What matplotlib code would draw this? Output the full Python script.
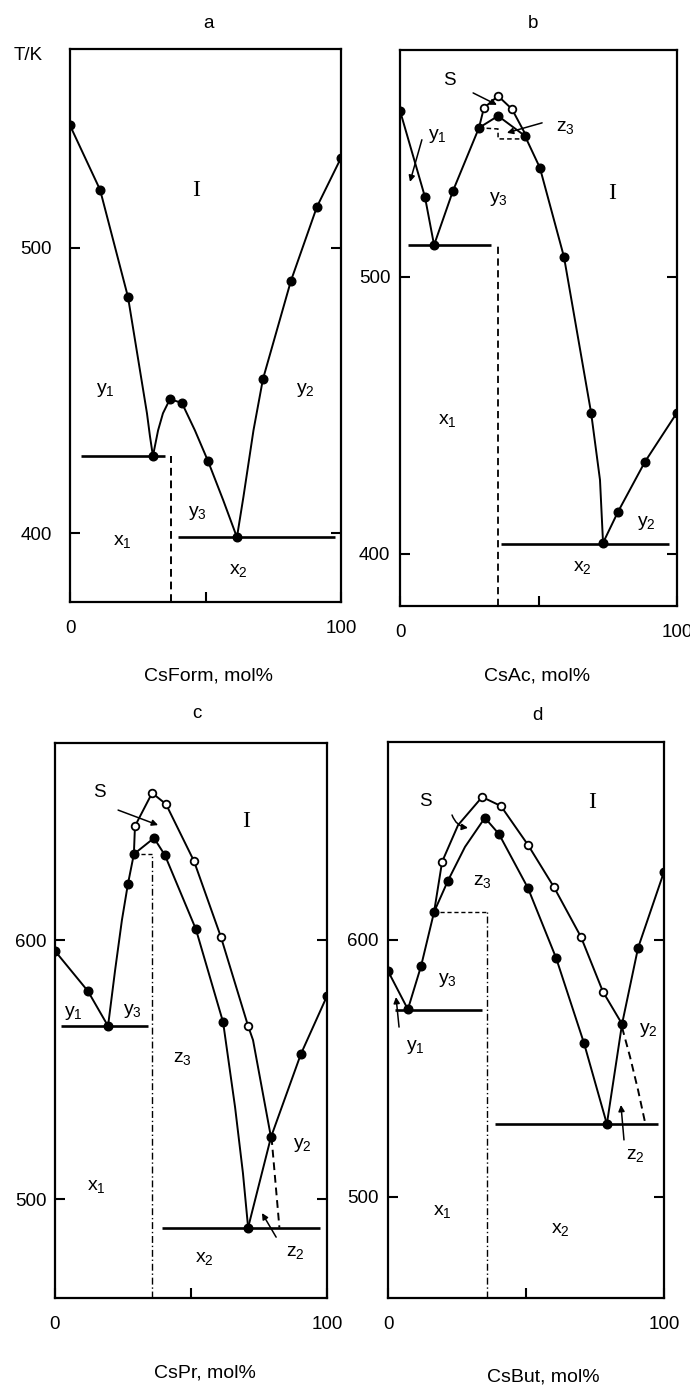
import matplotlib
matplotlib.use('Agg')
import matplotlib.pyplot as plt

plt.rcParams['font.family'] = ['Liberation Sans', 'DejaVu Sans']
plt.rcParams['mathtext.fontset'] = 'custom'
plt.rcParams['mathtext.rm'] = 'Liberation Sans'

# ---------------- panel a : CsForm ----------------
a_y1_x = [0, 11.1, 21.4, 28.4, 29.5, 30.6]
a_y1_T = [543, 520.4, 482.8, 442, 434, 427]
a_y3_x = [30.6, 32.5, 34.3, 36.9, 41.3, 46.1, 50.9, 56.5, 61.6]
a_y3_T = [427, 436, 442, 447, 445.6, 436, 425.3, 411.6, 398.5]
a_y2_x = [61.6, 64.0, 67.7, 71.2, 81.5, 91.1, 100]
a_y2_T = [398.5, 412.7, 436, 454, 488.4, 514.4, 531.6]
a_dot_x = [0, 11.1, 21.4, 30.6, 36.9, 41.3, 50.9, 61.6, 71.2, 81.5, 91.1, 100]
a_dot_T = [543, 520.4, 482.8, 427, 447, 445.6, 425.3, 398.5, 454, 488.4, 514.4, 531.6]
a_eut_T = [427, 398.5]
a_eut_x0 = [4.1, 39.9]
a_eut_x1 = [35.1, 97.8]
a_comp_x = 37.3

# ---------------- panel b : CsAc ----------------
b_y1_x = [0, 9.0, 12.3]
b_y1_T = [560, 528.9, 511.5]
b_y3_x = [12.3, 19.1, 28.5, 35.4, 45.1, 50.5, 59.2, 69.0, 72.2, 73.3]
b_y3_T = [511.5, 531, 553.8, 558.1, 550.9, 539.4, 507.2, 450.9, 426.7, 404]
b_y2_x = [73.3, 78.7, 88.4, 100]
b_y2_T = [404, 415.2, 433.2, 451]
b_s_x = [28.5, 30.3, 35.4, 40.4, 45.8]
b_s_T = [553.8, 561, 565.3, 560.6, 550.5]
b_z3_x = [28.5, 35.4, 35.4, 45.1]
b_z3_T = [553.8, 553.4, 549.8, 549.8]
b_dot_x = [0, 9.0, 12.3, 19.1, 28.5, 35.4, 45.1, 50.5, 59.2, 69.0, 73.3, 78.7, 88.4, 100]
b_dot_T = [560, 528.9, 511.5, 531, 553.8, 558.1, 550.9, 539.4, 507.2, 450.9, 404, 415.2, 433.2, 451]
b_open_x = [30.3, 35.4, 40.4]
b_open_T = [561, 565.3, 560.6]
b_eut_T = [511.5, 403.6]
b_eut_x0 = [2.9, 36.5]
b_eut_x1 = [33.0, 97.0]
b_comp_x = 35.4

# ---------------- panel c : CsPr ----------------
c_y1_x = [0, 12.1, 19.5]
c_y1_T = [595.8, 580.3, 566.8]
c_y3_x = [19.5, 22.1, 24.6, 26.8, 29.0, 36.4, 40.4, 51.8, 61.8, 66.2, 69.1, 71.0]
c_y3_T = [566.8, 588.4, 607.7, 621.6, 633.2, 639.4, 632.8, 604.2, 568.3, 535.5, 510, 489]
c_s_x = [29.0, 29.4, 35.7, 40.8, 51.1, 61.0, 71.0, 72.8, 79.4]
c_s_T = [633.2, 644, 656.8, 652.5, 630.5, 601.2, 566.8, 561.4, 523.9]
c_y2_x = [71.0, 79.4, 90.4, 100]
c_y2_T = [489, 523.9, 556, 578.4]
c_z2_x = [79.6, 82.5]
c_z2_T = [523.9, 489]
c_dot_x = [0, 12.1, 19.5, 26.8, 29.0, 36.4, 40.4, 51.8, 61.8, 71.0, 79.4, 90.4, 100]
c_dot_T = [595.8, 580.3, 566.8, 621.6, 633.2, 639.4, 632.8, 604.2, 568.3, 489, 523.9, 556, 578.4]
c_open_x = [29.4, 35.7, 40.8, 51.1, 61.0, 71.0]
c_open_T = [644, 656.8, 652.5, 630.5, 601.2, 566.8]
c_eut_T = [566.8, 489]
c_eut_x0 = [2.2, 39.3]
c_eut_x1 = [34.2, 97.4]
c_comp_x = 35.8
c_comp_T = 633.2

# ---------------- panel d : CsBut ----------------
d_y1_x = [0, 7.2]
d_y1_T = [587.9, 573]
d_y3_x = [7.2, 12.0, 16.7, 21.7, 27.9, 35.1, 40.2, 50.7, 60.9, 71.0, 79.3]
d_y3_T = [573, 589.9, 610.9, 623, 636.2, 647.5, 641.2, 620.2, 593, 559.9, 528.4]
d_s_x = [16.7, 19.6, 25.4, 34.1, 40.9, 50.7, 60.1, 69.9, 77.9, 84.8]
d_s_T = [610.9, 630.4, 644.7, 655.6, 652.1, 637, 620.6, 601.2, 579.8, 567.3]
d_y2_x = [79.3, 84.8, 90.6, 100]
d_y2_T = [528.4, 567.3, 596.9, 626.5]
d_z2_x = [84.8, 87.7, 90.6, 93.1]
d_z2_T = [566, 554.5, 541.6, 529.2]
d_dot_x = [0, 7.2, 12.0, 16.7, 21.7, 35.1, 40.2, 50.7, 60.9, 71.0, 79.3, 84.8, 90.6, 100]
d_dot_T = [587.9, 573, 589.9, 610.9, 623, 647.5, 641.2, 620.2, 593, 559.9, 528.4, 567.3, 596.9, 626.5]
d_open_x = [19.6, 34.1, 40.9, 50.7, 60.1, 69.9, 77.9]
d_open_T = [630.4, 655.6, 652.1, 637, 620.6, 601.2, 579.8]
d_eut_T = [572.8, 528.4]
d_eut_x0 = [2.5, 38.8]
d_eut_x1 = [34.0, 97.8]
d_comp_x = 36.0
d_comp_T = 611.0
d_comp_x0 = 18.8

y_ticks_ab = [400, 500]
y_ticks_cd = [500, 600]
x_ticks = [0, 50, 100]
x_tick_labels = ['0', '', '100']

W, H = 690, 1387
fig = plt.figure(figsize=(W / 100, H / 100), dpi=100)


def make_ax(l, t, r, b, ylim, yticks, ypad):
    ax = fig.add_axes([l / W, 1 - b / H, (r - l) / W, (b - t) / H])
    ax.set_xlim(0, 100)
    ax.set_ylim(*ylim)
    ax.set_xticks(x_ticks)
    ax.set_xticklabels(x_tick_labels)
    ax.set_yticks(yticks)
    ax.set_yticklabels([str(v) for v in yticks])
    ax.tick_params(direction='in', length=7, width=1.5, labelsize=13.5,
                   right=True, top=False)
    ax.tick_params(axis='x', pad=13)
    ax.tick_params(axis='y', pad=ypad)
    for s in ax.spines.values():
        s.set_linewidth(1.6)
    return ax


def solid(ax, x, T):
    ax.plot(x, T, color='k', lw=1.4, solid_joinstyle='round', zorder=3)


def dots(ax, x, T):
    ax.plot(x, T, 'o', ms=6.2, color='k', ls='none', zorder=5)


def opens(ax, x, T):
    ax.plot(x, T, 'o', ms=5.5, mfc='white', mec='k', mew=1.3, ls='none', zorder=5)


def eut(ax, T, x0, x1):
    ax.hlines(T, x0, x1, color='k', lw=1.9, zorder=3)


def lab(ax, x, T, s, size=14, serif=False):
    fam = ['Liberation Serif'] if serif else ['Liberation Sans']
    ax.text(x, T, s, ha='center', va='center', fontsize=size, family=fam)


def arrow(ax, x0, T0, x1, T1, rad=0.0):
    ax.annotate('', xy=(x1, T1), xytext=(x0, T0),
                arrowprops=dict(arrowstyle='-|>', color='k', lw=1.1,
                                mutation_scale=9, shrinkA=0, shrinkB=0,
                                connectionstyle='arc3,rad=%g' % rad))


def Y(n):
    return r'$\mathregular{y_%d}$' % n


def X(n):
    return r'$\mathregular{x_%d}$' % n


def Z(n):
    return r'$\mathregular{z_%d}$' % n


# ---------- a ----------
ax = make_ax(70, 49, 341, 602, (375.8, 569.8), y_ticks_ab, 13)
solid(ax, a_y1_x, a_y1_T)
solid(ax, a_y3_x, a_y3_T)
solid(ax, a_y2_x, a_y2_T)
dots(ax, a_dot_x, a_dot_T)
eut(ax, a_eut_T, a_eut_x0, a_eut_x1)
ax.vlines(a_comp_x, 375.8, a_eut_T[0], colors='k', lw=1.4, linestyles=(0, (4, 2.5)))
lab(ax, 46.5, 520, 'I', 17, serif=True)
lab(ax, 13, 450, Y(1))
lab(ax, 87, 450, Y(2))
lab(ax, 47, 407, Y(3))
lab(ax, 19.5, 397, X(1))
lab(ax, 62, 387, X(2))

# ---------- b ----------
ax = make_ax(400, 50, 677, 606, (381.2, 581.9), y_ticks_ab, 7)
solid(ax, b_y1_x, b_y1_T)
solid(ax, b_y3_x, b_y3_T)
solid(ax, b_y2_x, b_y2_T)
solid(ax, b_s_x, b_s_T)
ax.plot(b_z3_x, b_z3_T, color='k', lw=1.1, ls=(0, (3, 2)), zorder=3)
dots(ax, b_dot_x, b_dot_T)
opens(ax, b_open_x, b_open_T)
eut(ax, b_eut_T, b_eut_x0, b_eut_x1)
ax.vlines(b_comp_x, 381.2, b_eut_T[0], colors='k', lw=1.3, linestyles=(0, (4, 2.5)))
lab(ax, 17.7, 571, 'S', 13.5)
lab(ax, 13.4, 551, Y(1))
lab(ax, 59.6, 554, Z(3))
lab(ax, 35.7, 528, Y(3))
lab(ax, 76.5, 530, 'I', 17, serif=True)
lab(ax, 17, 448, X(1))
lab(ax, 89, 411, Y(2))
lab(ax, 66, 395, X(2))
arrow(ax, 7.9, 549.5, 3.6, 534.3)
arrow(ax, 26.4, 566.4, 35.0, 562.1)
arrow(ax, 51.3, 555.6, 38.6, 552.0)

# ---------- c ----------
ax = make_ax(55, 743, 327, 1298, (461.8, 676.1), y_ticks_cd, 6)
solid(ax, c_y1_x, c_y1_T)
solid(ax, c_y3_x, c_y3_T)
solid(ax, c_s_x, c_s_T)
solid(ax, c_y2_x, c_y2_T)
ax.plot(c_z2_x, c_z2_T, color='k', lw=1.4, ls=(0, (4, 2.5)), zorder=3)
dots(ax, c_dot_x, c_dot_T)
opens(ax, c_open_x, c_open_T)
eut(ax, c_eut_T, c_eut_x0, c_eut_x1)
ax.vlines(c_comp_x, 461.8, c_comp_T, colors='k', lw=1.0, linestyles=(0, (5, 2, 1, 2)))
ax.hlines(c_comp_T, c_dot_x[4], c_comp_x, colors='k', lw=1.0, linestyles=(0, (3, 2)))
lab(ax, 16.2, 657, 'S', 13.5)
lab(ax, 70.2, 645.6, 'I', 17, serif=True)
lab(ax, 6.6, 571.8, Y(1))
lab(ax, 28.6, 572.6, Y(3))
lab(ax, 47, 554.4, Z(3))
lab(ax, 90.8, 520.8, Y(2))
lab(ax, 15.1, 505, X(1))
lab(ax, 55.1, 477.2, X(2))
lab(ax, 88.2, 479.5, Z(2))
arrow(ax, 23.2, 650.2, 37.9, 644.4)
arrow(ax, 81.3, 485.3, 76.1, 494.6)

# ---------- d ----------
ax = make_ax(388, 742, 664, 1298, (460.7, 677.0), y_ticks_cd, 7)
solid(ax, d_y1_x, d_y1_T)
solid(ax, d_y3_x, d_y3_T)
solid(ax, d_s_x, d_s_T)
solid(ax, d_y2_x, d_y2_T)
ax.plot(d_z2_x, d_z2_T, color='k', lw=1.4, ls=(0, (4, 2.5)), zorder=3)
dots(ax, d_dot_x, d_dot_T)
opens(ax, d_open_x, d_open_T)
eut(ax, d_eut_T, d_eut_x0, d_eut_x1)
ax.vlines(d_comp_x, 460.7, d_comp_T, colors='k', lw=1.0, linestyles=(0, (5, 2, 1, 2)))
ax.hlines(d_comp_T, d_comp_x0, d_comp_x, colors='k', lw=1.0, linestyles=(0, (3, 2)))
lab(ax, 13.4, 654, 'S', 13.5)
lab(ax, 73.9, 653.3, 'I', 17, serif=True)
lab(ax, 34.1, 622.6, Z(3))
lab(ax, 21.7, 584.4, Y(3))
lab(ax, 9.8, 558.4, Y(1))
lab(ax, 94.2, 565, Y(2))
lab(ax, 89.5, 516.3, Z(2))
lab(ax, 19.6, 494.2, X(1))
lab(ax, 62.3, 487.2, X(2))
arrow(ax, 4.0, 566.1, 2.9, 577.8)
arrow(ax, 23.2, 648.6, 29.0, 643.6, rad=0.3)
arrow(ax, 85.5, 522.2, 84.4, 535.8)

# ---------- figure texts ----------
def ftext(px, py, s, size=13.5):
    fig.text(px / W, 1 - py / H, s, ha='center', va='center', fontsize=size)

ftext(208, 23, 'a')
ftext(533, 23, 'b')
ftext(197, 713, 'c')
ftext(537, 715, 'd')
ftext(28, 55, 'T/K')
ftext(208, 676, 'CsForm, mol%', 14)
ftext(537, 676, 'CsAc, mol%', 14)
ftext(205, 1373, 'CsPr, mol%', 14)
ftext(543, 1377, 'CsBut, mol%', 14)

fig.savefig('out.png', dpi=100)
